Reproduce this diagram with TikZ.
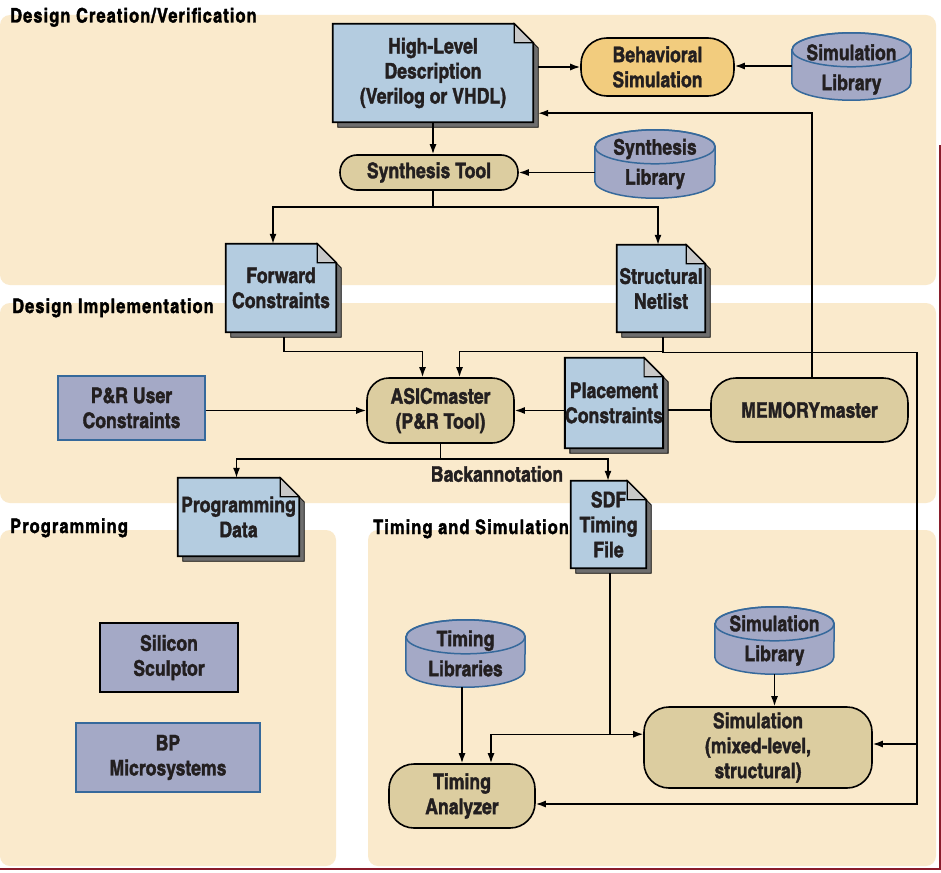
\documentclass[tikz,border=0pt]{standalone}
\usepackage{fontspec}
\setmainfont{texgyreheroscn}[Extension=.otf, UprightFont=*-bold, BoldFont=*-bold, UprightFeatures={FakeBold=1.6}]
\newfontfamily\labfont{texgyreheroscn}[Extension=.otf, UprightFont=*-bold, LetterSpace=5.5, UprightFeatures={FakeBold=1.6}]
\usetikzlibrary{arrows.meta,calc}
\definecolor{panel}{HTML}{FAEACC}
\definecolor{docblue}{HTML}{B4CCE0}
\definecolor{foldgray}{HTML}{C8C8C8}
\definecolor{shadowgray}{HTML}{6E6E6E}
\definecolor{cylfill}{HTML}{A4A9C6}
\definecolor{cylline}{HTML}{36699B}
\definecolor{tanfill}{HTML}{DCCDA0}
\definecolor{orangefill}{HTML}{F2CC7E}
\definecolor{txt}{HTML}{231F20}
\definecolor{redline}{HTML}{8A1C2B}
\pgfdeclarelayer{bg}\pgfdeclarelayer{shp}\pgfsetlayers{bg,shp,main}
\newcommand\docshape[1]{%
\begin{pgfonlayer}{shp}
\filldraw[fill=shadowgray,draw=black,line width=0.8pt] ($(#1.north west)+(5,5)$) -- ($(#1.north east)+(-14,5)$) -- ($(#1.north east)+(5,24)$) -- ($(#1.south east)+(5,5)$) -- ($(#1.south west)+(5,5)$) -- cycle;
\filldraw[fill=docblue,draw=black,line width=1.8pt] (#1.north west) -- ($(#1.north east)+(-19,0)$) -- ($(#1.north east)+(0,19)$) -- (#1.south east) -- (#1.south west) -- cycle;
\filldraw[fill=foldgray,draw=black,line width=1.2pt] ($(#1.north east)+(-19,0)$) -- ($(#1.north east)+(-19,19)$) -- ($(#1.north east)+(0,19)$) -- cycle;
\end{pgfonlayer}}
% #1 node, #2 x radius, #3 vertical offset of the shape relative to the node
\newcommand\cylshape[3]{%
\begin{pgfonlayer}{shp}
\filldraw[fill=cylfill,draw=cylline,line width=1.5pt] ($(#1.north west)+(0,17+#3)$) -- ($(#1.south west)+(0,-17+#3)$) arc[start angle=180,end angle=360,x radius=#2pt,y radius=17pt] -- ($(#1.north east)+(0,17+#3)$) arc[start angle=0,end angle=180,x radius=#2pt,y radius=17pt] -- cycle;
\draw[cylline,line width=1.5pt] ($(#1.north)+(0,17+#3)$) ellipse[x radius=#2pt,y radius=17pt];
\end{pgfonlayer}}
\tikzset{
 lbl/.style={font=\labfont\fontsize{20}{22}\selectfont, text=black, anchor=base west, inner sep=0pt},
 ntext/.style={font=\fontsize{21.5}{25}\selectfont, text=txt, align=center, inner sep=0pt},
 doc/.style={ntext},
 rnd/.style={ntext, draw=black, line width=1.6pt, fill=tanfill},
 cyl/.style={ntext, font=\fontsize{21.5}{30}\selectfont},
 bluebox/.style={ntext, draw=cylline, line width=1.3pt, fill=cylfill},
 blackbox/.style={ntext, draw=black, line width=1.5pt, fill=cylfill},
 conn/.style={line width=1.4pt, draw=black},
 arr/.style={conn, -{Latex[length=10pt,width=7pt]}},
}
\begin{document}
\begin{tikzpicture}[x=1pt,y=-1pt]
\useasboundingbox (0,0) rectangle (941,872);
\begin{pgfonlayer}{bg}
\fill[white] (0,0) rectangle (941,872);
\fill[panel, rounded corners=10pt] (0,15) rectangle (936,285);
\fill[panel, rounded corners=10pt] (0,303) rectangle (936,503);
\fill[panel, rounded corners=10pt] (0,530) rectangle (336,866);
\fill[panel, rounded corners=10pt] (368,530) rectangle (936,866);
\draw[redline, line width=2.5pt] (940,145) -- (940,869) -- (0,869);
\end{pgfonlayer}
% section labels
\node[lbl] (l1) at (10,22.5) {Design Creation/Verification};
\node[lbl] (l2) at (12,313) {Design Implementation};
\node[lbl] (l3) at (10,533) {Programming};
\node[lbl] (l4) at (373,534) {Timing and Simulation};
% nodes
\node[doc, minimum width=200pt, minimum height=98pt] (hld) at (433,73) {High-Level\\Description\\(Verilog or VHDL)};
\node[rnd, fill=orangefill, rounded corners=26pt, minimum width=153pt, minimum height=58pt] (beh) at (657.5,67) {Behavioral\\Simulation};
\node[cyl, minimum width=119pt, minimum height=67pt] (simlib1) at (851.5,69.5) {Simulation\\Library};
\node[rnd, rounded corners=17pt, minimum width=178pt, minimum height=35pt] (synth) at (429,172.5) {Synthesis Tool};
\node[cyl, minimum width=120pt, minimum height=68pt] (synlib) at (655,164) {Synthesis\\Library};
\node[doc, minimum width=110pt, minimum height=88pt] (fwd) at (281,288) {Forward\\Constraints};
\node[doc, minimum width=88pt, minimum height=87pt] (netl) at (661,288.5) {Structural\\Netlist};
\node[bluebox, minimum width=147pt, minimum height=64pt] (prc) at (131.5,408) {P\&R User\\Constraints};
\node[rnd, rounded corners=22pt, minimum width=147pt, minimum height=65pt] (asic) at (440.5,410.5) {ASICmaster\\(P\&R Tool)};
\node[doc, minimum width=96pt, minimum height=90pt] (plc) at (614,403) {Placement\\Constraints};
\node[rnd, rounded corners=25pt, minimum width=197pt, minimum height=64pt] (mem) at (809.5,410) {MEMORYmaster};
\node[doc, minimum width=121pt, minimum height=78pt] (prog) at (238.5,517) {Programming\\Data};
\node[doc, minimum width=75pt, minimum height=87pt] (sdf) at (608.5,524.5) {SDF\\Timing\\File};
\node[ntext] (back) at (497,474) {Backannotation};
\node[blackbox, minimum width=138pt, minimum height=69pt] (sisc) at (169,657.5) {Silicon\\Sculptor};
\node[bluebox, minimum width=184pt, minimum height=69pt] (bp) at (168,757.5) {BP\\Microsystems};
\node[cyl, minimum width=119pt, minimum height=67pt] (tlib) at (465.5,653.5) {Timing\\Libraries};
\node[cyl, minimum width=119pt, minimum height=67pt] (slib2) at (774.5,640.5) {Simulation\\Library};
\node[rnd, rounded corners=25pt, minimum width=228pt, minimum height=81pt] (sim) at (758,747.5) {Simulation\\(mixed-level,\\structural)};
\node[rnd, rounded corners=25pt, minimum width=146pt, minimum height=64pt] (ta) at (462,796) {Timing\\Analyzer};
% shapes
\docshape{hld}\docshape{fwd}\docshape{netl}\docshape{plc}\docshape{prog}\docshape{sdf}
\cylshape{simlib1}{59.5}{-3}\cylshape{synlib}{60}{0}\cylshape{tlib}{59.5}{0}\cylshape{slib2}{59.5}{0}
% connectors
\draw[arr] ([xshift=5pt]hld.east |- beh.west) -- (beh.west);
\draw[arr] ($(simlib1.west |- beh.east)+(0,-1)$) -- ($(beh.east)+(0,-1)$);
\draw[arr] ([xshift=2.5pt]mem.north) |- ($(hld.south east)+(5,-9)$);
\draw[arr] (hld.south) -- (hld.south |- synth.north);
\draw[arr] (synlib.west |- synth.east) -- (synth.east);
\draw[conn] (hld.south |- synth.south) -- ++(0,16) coordinate (sp);
\draw[arr] (sp) -| ([xshift=-8pt]fwd.north);
\draw[arr] (sp) -| ([xshift=-3pt]netl.north);
\draw[arr] ($(fwd.south)+(3,5)$) |- ($(asic.north)+(-18,-26)$) -- ($(asic.north)+(-18,0)$);
\draw[arr] ($(netl.south)+(2,5)$) |- ($(asic.north)+(19,-26)$) -- ($(asic.north)+(19,0)$);
\coordinate (rb) at ($(netl.south)+(256,20)$);
\draw[conn] ($(netl.south)+(2,5)$) |- (rb);
\draw[arr] (rb) |- ($(sim.east)+(0,-3.5)$);
\draw[arr] (rb) |- ($(ta.east)+(0,8)$);
\draw[conn] (mem.west) -- ($(mem.west -| plc.east)+(5,0)$);
\draw[arr] (plc.west |- asic.east) -- (asic.east);
\draw[arr] (prc.east |- asic.west) -- (asic.west);
\draw[conn] (asic.south) -- ++(0,15) coordinate (bs);
\draw[arr] (bs) -| ([xshift=-2pt]prog.north);
\draw[arr] (bs) -| ([xshift=-0.5pt]sdf.north);
\draw[conn] ($(sdf.south)+(1.5,5)$) -- ++(0,161) coordinate (sj);
\draw[arr] (sj) -- (sj -| sim.west);
\draw[arr] (sj) -| ($(ta.north)+(29,0)$);
\draw[arr] ($(tlib.south)+(-3.5,0)$) -- ($(tlib.south |- ta.north)+(-3.5,0)$);
\draw[arr] (slib2.south) -- (slib2.south |- sim.north);
\end{tikzpicture}
\end{document}
